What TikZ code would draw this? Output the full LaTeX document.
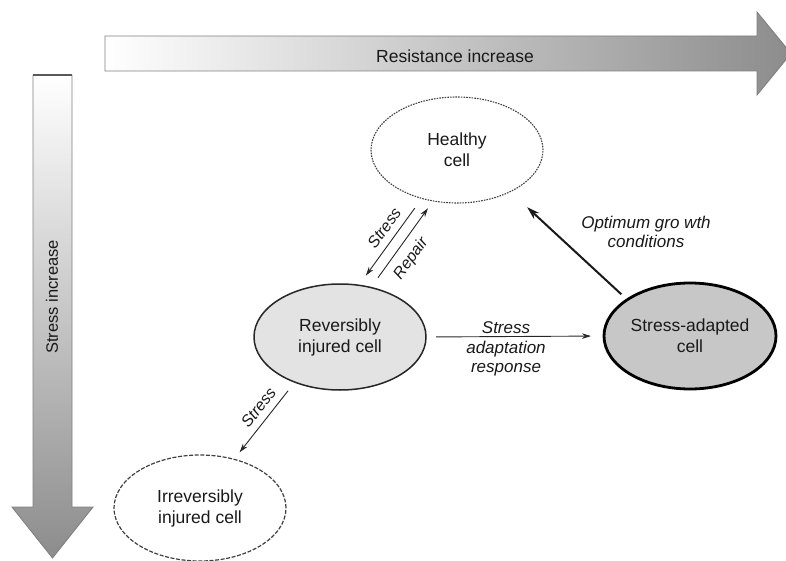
\documentclass[tikz,border=0pt]{standalone}
\usepackage{fontspec}
\setmainfont{Liberation Sans}
\usetikzlibrary{arrows.meta,shapes.geometric}
\begin{document}
\begin{tikzpicture}[x=1pt,y=-1pt,
  >={Stealth[length=9pt,width=5.5pt]},
  cell/.style={ellipse, inner sep=0pt, outer sep=0pt, minimum width=172pt,
    minimum height=106pt, align=center,
    font=\fontsize{17.5}{21}\selectfont, text=black!90},
  dottedcell/.style={cell, draw=black!75, line width=1.1pt, dash pattern=on 1.6pt off 1.1pt},
  dashedcell/.style={cell, draw=black!75, line width=1.2pt, dash pattern=on 4pt off 1.6pt},
  softcell/.style={cell, draw=black!85, line width=1.5pt, fill=black!11},
  strongcell/.style={cell, draw=black, line width=2.8pt, fill=black!22},
  link/.style={line width=0.9pt, draw=black!85},
  boldlink/.style={line width=2pt, draw=black!90, -{Stealth[length=13pt,width=8pt]}},
  lbl/.style={font=\itshape\fontsize{17}{19.5}\selectfont, text=black!90, align=center, inner sep=2pt},
  slbl/.style={font=\itshape\fontsize{16}{19}\selectfont, text=black!90, inner sep=1pt},
  axislbl/.style={font=\fontsize{17.5}{21}\selectfont, text=black!90, inner sep=0pt},
  bigarrow/.style={draw=black!50, line width=0.9pt},
]
\useasboundingbox (0,0) rectangle (786,561);

% horizontal axis arrow
\path[bigarrow, left color=white, right color=black!45]
  (105,36) -- (757,36) -- (757,12) -- (791,53.5) -- (757,95) -- (757,71) -- (105,71) -- cycle;
\node[axislbl] (resist) at (455,56) {Resistance increase};

% vertical axis arrow
\path[bigarrow, top color=white, bottom color=black!45]
  (33,75) -- (72,75) -- (72,507) -- (93,507) -- (52.5,558) -- (12,507) -- (33,507) -- cycle;
\draw[black!65, line width=2pt] (33,75) -- (72,75);
\node[axislbl, font=\fontsize{16.5}{20}\selectfont, rotate=90] (stressax) at (52,297) {Stress increase};

% cell states
\node[dottedcell] (healthy) at (457,150) {Healthy\\cell};
\node[softcell] (rev) at (340,337) {Reversibly\\injured cell};
\node[strongcell] (adapted) at (690,336) {Stress-adapted\\cell};
\node[dashedcell] (irrev) at (200,508) {Irreversibly\\injured cell};

% transitions
\draw[link, <-, shorten <=12pt, shorten >=12pt] (rev.70.5) -- (healthy.234)
  node[slbl, pos=0.57, sloped, above=6pt] (lstress) {Stress};
\draw[link, ->, shorten <=12pt, shorten >=9pt] (rev.58.3) -- (healthy.245.4)
  node[slbl, pos=0.44, sloped, below=7pt] (lrepair) {Repair};
\draw[link, <-, shorten <=9pt, shorten >=11pt] (irrev.55.1) -- (rev.225)
  node[slbl, pos=0.57, sloped, above=6pt] (lstress2) {Stress};
\draw[link, ->, shorten <=10pt, shorten >=13pt] (rev.east) -- (adapted.west);
\node[lbl] (ladapt) at (506,349) {Stress\\adaptation\\response};
\draw[boldlink, shorten <=8pt, shorten >=23pt] (adapted.150.8) -- (healthy.-38);
\node[lbl] (loptimum) at (646,232) {Optimum gro wth\\conditions};
\end{tikzpicture}
\end{document}
